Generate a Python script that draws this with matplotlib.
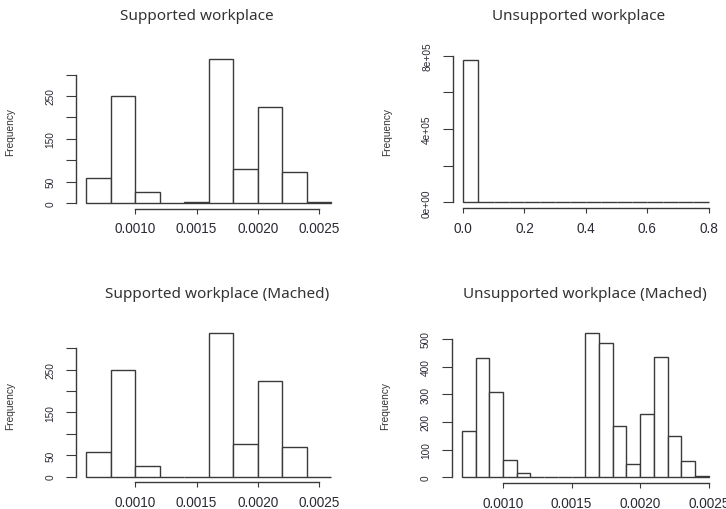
import numpy as np
import matplotlib.pyplot as plt

# bin edges and counts
edges_sup = [0.0006, 0.0008, 0.0010, 0.0012, 0.0014, 0.0016, 0.0018, 0.0020, 0.0022, 0.0024, 0.0026]
counts_sup = [58, 249, 25, 0, 2, 336, 80, 224, 72, 2]
counts_sup_m = [57, 249, 24, 0, 0, 336, 76, 223, 69, 0]

edges_uns = [0.0, 0.05, 0.1, 0.15, 0.2, 0.25, 0.3, 0.35, 0.4, 0.45, 0.5, 0.55, 0.6, 0.65, 0.7, 0.75, 0.8]
counts_uns = [778000, 0, 0, 0, 0, 0, 0, 0, 0, 0, 0, 0, 0, 0, 0, 0]

edges_uns_m = [0.0007, 0.0008, 0.0009, 0.0010, 0.0011, 0.0012, 0.0013, 0.0014, 0.0015, 0.0016,
               0.0017, 0.0018, 0.0019, 0.0020, 0.0021, 0.0022, 0.0023, 0.0024, 0.0025]
counts_uns_m = [169, 432, 307, 64, 14, 0, 0, 0, 3, 520, 484, 186, 48, 230, 436, 149, 60, 4]

titles = ["Supported workplace", "Unsupported workplace",
          "Supported workplace (Mached)", "Unsupported workplace (Mached)"]

xt_small = [0.0010, 0.0015, 0.0020, 0.0025]
xt_small_lab = ["0.0010", "0.0015", "0.0020", "0.0025"]
yt_sup = [0, 50, 100, 150, 200, 250, 300]
yt_sup_lab = ["0", "50", "", "150", "", "250", ""]
xt_uns = [0.0, 0.2, 0.4, 0.6, 0.8]
xt_uns_lab = ["0.0", "0.2", "0.4", "0.6", "0.8"]
yt_uns = [0, 200000, 400000, 600000, 800000]
yt_uns_lab = ["0e+00", "", "4e+05", "", "8e+05"]
yt_uns_m = [0, 100, 200, 300, 400, 500]
yt_uns_m_lab = ["0", "100", "200", "300", "400", "500"]

W, H = 726, 510
plt.rcParams['font.family'] = ['Liberation Sans', 'DejaVu Sans']
fig = plt.figure(figsize=(W / 100, H / 100), dpi=100)
dark = '#3a3a3a'


def panel(box, edges, counts, xt, xlab, yt, ylab):
    x0, y0, x1, y1 = box
    ax = fig.add_axes([x0 / W, 1 - y1 / H, (x1 - x0) / W, (y1 - y0) / H])
    ax.hist(edges[:-1], bins=edges, weights=counts, histtype='bar',
            facecolor='white', edgecolor=dark, linewidth=1.0)
    span = edges[-1] - edges[0]
    ax.set_xlim(edges[0] - 0.04 * span, edges[-1] + 0.04 * span)
    top = max(counts)
    ax.set_ylim(-0.04 * top, 1.04 * top)
    for s in ['top', 'right']:
        ax.spines[s].set_visible(False)
    for s in ['left', 'bottom']:
        ax.spines[s].set_color(dark)
        ax.spines[s].set_linewidth(1.0)
    ax.spines['left'].set_bounds(yt[0], yt[-1])
    ax.spines['bottom'].set_bounds(xt[0], xt[-1])
    ax.set_xticks(xt)
    ax.set_xticklabels(xlab, fontsize=9.8, color='#2a2a35')
    ax.set_yticks(yt)
    ax.set_yticklabels(ylab, fontsize=7.3, color='#2a2a35', rotation=90, va='center')
    ax.tick_params(axis='x', length=3.6, width=0.8, color=dark, pad=5.5)
    ax.tick_params(axis='y', length=7.2, width=0.8, color=dark, pad=8)
    ax.set_ylabel("Frequency", fontsize=7.3, color='#333333')
    ax.yaxis.set_label_coords(-0.232, 0.5)
    ax.patch.set_alpha(0)
    return ax


panel((76.4, 54.5, 341.3, 209.7), edges_sup, counts_sup, xt_small, xt_small_lab, yt_sup, yt_sup_lab)
panel((453.2, 55.0, 718.5, 209.0), edges_uns, counts_uns, xt_uns, xt_uns_lab, yt_uns, yt_uns_lab)
panel((76.4, 328.2, 341.3, 483.4), edges_sup, counts_sup_m, xt_small, xt_small_lab, yt_sup, yt_sup_lab)
panel((452.0, 328.7, 718.6, 484.1), edges_uns_m, counts_uns_m, xt_small, xt_small_lab, yt_uns_m, yt_uns_m_lab)

title_pos = [(197, 17), (579, 17), (217, 295), (585, 295)]
for t, (tx, ty) in zip(titles, title_pos):
    fig.text(tx / W, 1 - ty / H, t, ha='center', va='center', fontsize=11,
             color='#333333', family=['Noto Sans', 'DejaVu Sans'])

fig.savefig("out.png", dpi=100)
